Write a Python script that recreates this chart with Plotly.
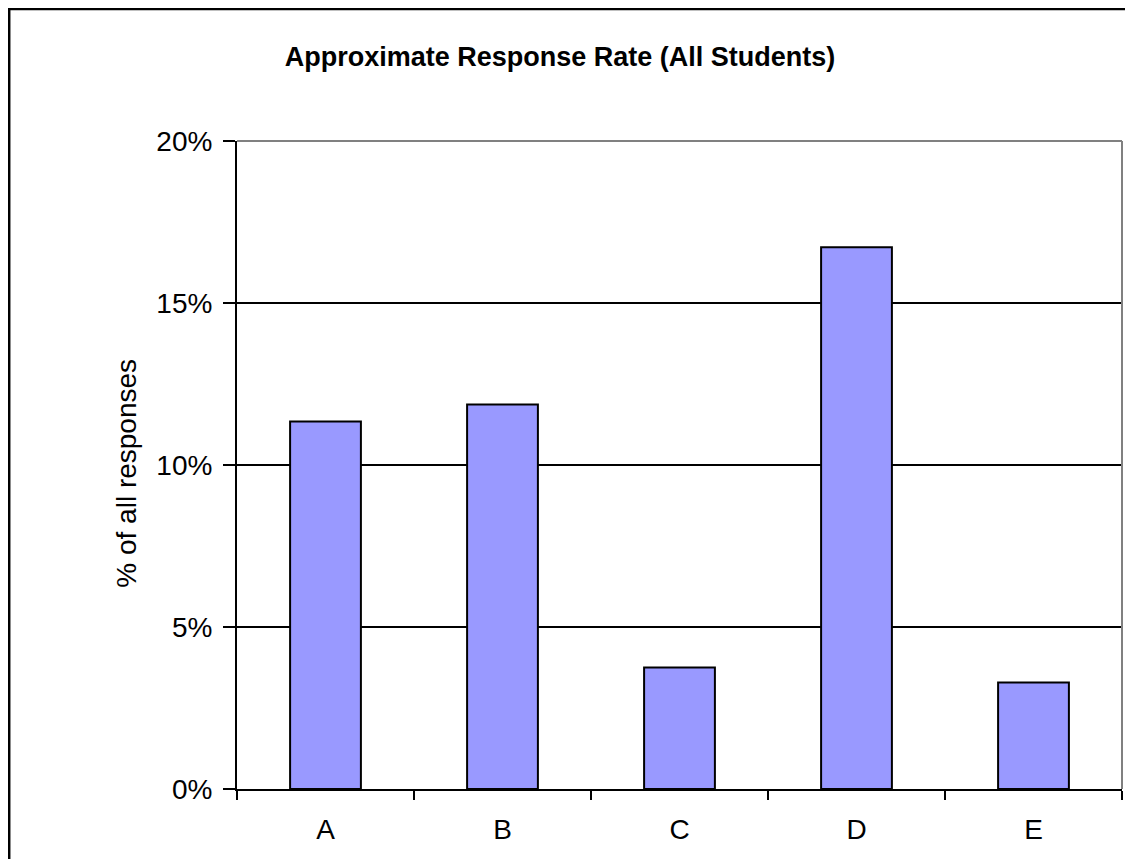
import plotly.graph_objects as go

categories = ["A", "B", "C", "D", "E"]
values = [11.34, 11.87, 3.75, 16.72, 3.29]
y_tickvals = [0, 5, 10, 15, 20]
y_ticktext = ["0%", "5%", "10%", "15%", "20%"]
title_text = "Approximate Response Rate (All Students)"
y_title = "% of all responses"

# page body adds an 8px offset; figure coordinates below are screen - 8
W, H = 1117, 851
L, R = 229, 1114
T, B = 133.3, 781.3

def px_x(p):
    return (p - L) / (R - L)

def px_y(p):
    return (B - p) / (B - T)

fig = go.Figure(go.Bar(
    x=categories, y=values,
    marker=dict(color="#9999FF", line=dict(color="black", width=2)),
))

fig.update_layout(
    width=W, height=H,
    margin=dict(l=L, r=W - R, t=T, b=H - B),
    paper_bgcolor="white", plot_bgcolor="white",
    bargap=0.6, showlegend=False,
    font=dict(family="Liberation Sans, Arial", color="black", size=28),
    title=dict(text="<b>" + title_text + "</b>", x=552 / W, xanchor="center",
               y=1 - 49 / H, yanchor="middle", font=dict(size=27)),
    xaxis=dict(showline=True, linecolor="black", linewidth=2,
               ticks="outside", ticklen=9, tickcolor="black", tickwidth=1.5,
               tickson="boundaries", showgrid=False, ticklabelstandoff=14),
    yaxis=dict(range=[0, 20], tickvals=y_tickvals, ticktext=y_ticktext,
               showline=True, linecolor="black", linewidth=2,
               ticks="outside", ticklen=12, tickcolor="black", tickwidth=1.5,
               showgrid=True, gridcolor="black", gridwidth=1.6, zeroline=False,
               ticklabelstandoff=5),
    annotations=[dict(text=y_title, xref="paper", yref="paper",
                      x=px_x(119), y=px_y(466), textangle=-90, showarrow=False,
                      font=dict(size=28), xanchor="center", yanchor="middle")],
    shapes=[
        dict(type="line", xref="paper", yref="paper", x0=0, x1=1, y0=1, y1=1,
             line=dict(color="#808080", width=2), layer="above"),
        dict(type="line", xref="paper", yref="paper", x0=1, x1=1, y0=0, y1=1,
             line=dict(color="#808080", width=2), layer="above"),
        dict(type="line", xref="paper", yref="paper", x0=px_x(0), x1=px_x(W + 5),
             y0=px_y(1.2), y1=px_y(1.2), line=dict(color="black", width=2.5)),
        dict(type="line", xref="paper", yref="paper", x0=px_x(1.2), x1=px_x(1.2),
             y0=px_y(0), y1=px_y(H + 5), line=dict(color="black", width=2.5)),
    ],
)

fig.write_html("out.html")
